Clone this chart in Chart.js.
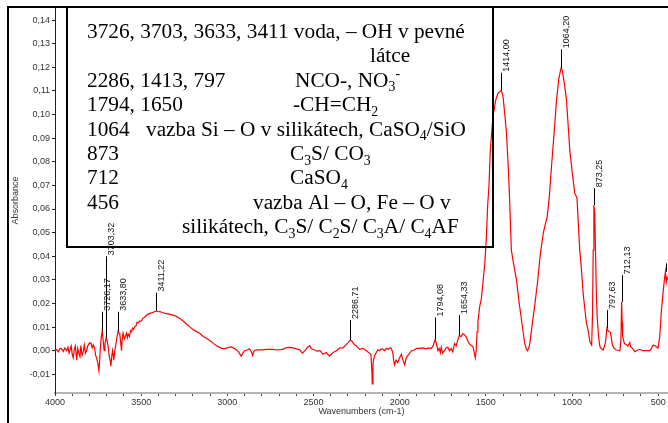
<!DOCTYPE html>
<html>
<head>
<meta charset="utf-8">
<script src="https://cdn.jsdelivr.net/npm/chart.js@4.4.0/dist/chart.umd.min.js"></script>
<style>
  body { margin: 0; background: #fff; }
  #spektrum { display: block; }
</style>
</head>
<body>
<canvas id="spektrum" width="668" height="423"></canvas>
<script>
// IR spektrum - vlnocty (cm-1) a absorbance
const wavenumbers = [
  4000, 3990, 3980, 3971, 3962, 3952, 3943, 3932, 3925, 3918, 3913, 3906, 3900, 3894, 3888, 3882,
  3874, 3868, 3862, 3855, 3850, 3843, 3836, 3830, 3823, 3817, 3810, 3804, 3798, 3790, 3784, 3778,
  3770, 3764, 3759, 3752, 3745, 3740, 3736, 3731, 3726, 3720, 3715, 3710, 3703, 3697, 3690, 3686,
  3680, 3676, 3670, 3666, 3662, 3659, 3653, 3647, 3640, 3634, 3628, 3624, 3618, 3614, 3609, 3605,
  3598, 3592, 3585, 3580, 3575, 3568, 3562, 3556, 3550, 3544, 3537, 3530, 3524, 3518, 3510, 3500,
  3490, 3480, 3470, 3460, 3450, 3440, 3430, 3420, 3411, 3400, 3390, 3380, 3360, 3340, 3320, 3300,
  3280, 3260, 3240, 3220, 3200, 3180, 3160, 3140, 3120, 3100, 3080, 3060, 3040, 3020, 3000, 2980,
  2965, 2950, 2935, 2920, 2910, 2900, 2885, 2872, 2862, 2853, 2845, 2830, 2800, 2770, 2740, 2710,
  2680, 2660, 2640, 2620, 2600, 2580, 2564, 2550, 2535, 2522, 2512, 2498, 2478, 2462, 2445, 2427,
  2407, 2397, 2382, 2367, 2347, 2329, 2312, 2297, 2287, 2277, 2262, 2247, 2233, 2213, 2193, 2177,
  2167, 2161, 2159, 2155, 2152, 2145, 2136, 2127, 2117, 2107, 2097, 2088, 2077, 2067, 2059, 2049,
  2040, 2035, 2030, 2021, 2011, 2000, 1990, 1981, 1971, 1962, 1952, 1942, 1931, 1916, 1901, 1884,
  1866, 1846, 1831, 1817, 1806, 1799, 1794, 1787, 1778, 1771, 1764, 1759, 1751, 1740, 1731, 1721,
  1711, 1701, 1692, 1682, 1672, 1663, 1654, 1644, 1634, 1624, 1614, 1604, 1594, 1585, 1575, 1565,
  1561, 1556, 1551, 1546, 1536, 1526, 1514, 1506, 1497, 1489, 1482, 1474, 1459, 1443, 1430, 1420,
  1414, 1407, 1400, 1390, 1380, 1370, 1362, 1352, 1342, 1322, 1308, 1293, 1283, 1274, 1265, 1258,
  1251, 1245, 1233, 1215, 1200, 1186, 1167, 1157, 1144, 1132, 1119, 1104, 1090, 1077, 1064, 1057,
  1052, 1042, 1032, 1022, 1013, 998, 984, 976, 971, 962, 955, 946, 935, 926, 916, 907,
  896, 886, 881, 877, 873, 868, 863, 859, 854, 846, 838, 829, 819, 811, 804, 798,
  791, 785, 777, 771, 766, 756, 743, 731, 722, 716, 712, 709, 706, 696, 684, 676,
  665, 659, 651, 636, 621, 607, 591, 578, 561, 549, 539, 529, 516, 501, 491, 481,
  471, 464, 458, 453, 448, 443
];

const absorbance = [
  0.0, 0.0005, -0.0005, 0.001, 0.0008, -0.0003, 0.0012, 0.0, 0.0015, -0.001, -0.001, 0.002, -0.0015, -0.003, 0.0005, 0.002,
  -0.004, 0.001, -0.001, -0.0025, 0.0022, -0.002, -0.0005, 0.0024, -0.001, 0.0, 0.002, 0.0028, 0.0034, 0.003, 0.0012, 0.0025,
  0.001, -0.002, -0.003, -0.005, -0.0085, -0.003, 0.002, 0.006, 0.0085, 0.004, 0.0, 0.003, 0.0055, 0.004, 0.001, -0.002,
  -0.004, -0.0065, -0.002, 0.0, -0.002, -0.004, 0.0, 0.0025, 0.006, 0.0082, 0.0075, 0.007, 0.003, 0.0, 0.006, 0.0075,
  0.005, 0.006, 0.0074, 0.0055, 0.007, 0.006, 0.0085, 0.008, 0.0095, 0.009, 0.0102, 0.0105, 0.012, 0.0118, 0.0125, 0.0125,
  0.0137, 0.0142, 0.015, 0.0155, 0.0158, 0.016, 0.0163, 0.0166, 0.0168, 0.0165, 0.0166, 0.0162, 0.0158, 0.0155, 0.0152, 0.0147,
  0.0138, 0.0128, 0.0115, 0.0102, 0.009, 0.0082, 0.0074, 0.006, 0.0052, 0.0042, 0.003, 0.002, 0.0012, 0.0008, 0.0012, 0.0016,
  0.0012, 0.0005, -0.0005, -0.0023, -0.001, 0.0, 0.0003, 0.0008, -0.0002, -0.002, 0.0, 0.0004, 0.0004, 0.0006, 0.0006, 0.0003,
  0.0006, 0.0012, 0.0014, 0.0012, 0.0008, 0.0004, -0.001, 0.0, 0.0015, 0.0022, 0.0008, 0.0004, -0.0002, 0.0, -0.0015, -0.0008,
  -0.0023, -0.0015, -0.0005, 0.0, 0.0012, 0.0012, 0.0025, 0.0035, 0.0045, 0.004, 0.0025, 0.0018, 0.0006, 0.001, 0.0, -0.001,
  -0.0015, -0.009, -0.014, -0.006, -0.004, -0.002, -0.0008, 0.0004, 0.0, 0.0008, 0.0006, 0.0, 0.001, 0.0005, 0.0012, 0.001,
  -0.0008, -0.004, -0.006, -0.004, -0.005, -0.003, -0.0015, -0.004, -0.006, -0.003, -0.002, -0.001, 0.0, 0.0003, 0.001, 0.001,
  0.0012, 0.0008, 0.0012, 0.001, 0.002, 0.0038, 0.0048, 0.003, 0.0, 0.001, -0.0008, 0.0015, -0.001, 0.0, 0.0012, 0.0015,
  0.0, 0.001, -0.0005, 0.003, 0.002, 0.0045, 0.0065, 0.006, 0.0072, 0.0068, 0.0058, 0.004, 0.0028, 0.0022, 0.0018, -0.0016,
  -0.003, 0.0, 0.008, 0.012, 0.0186, 0.022, 0.031, 0.037, 0.048, 0.062, 0.0694, 0.085, 0.099, 0.106, 0.109, 0.1097,
  0.11, 0.1095, 0.1075, 0.1, 0.092, 0.078, 0.0638, 0.0426, 0.038, 0.03, 0.021, 0.013, 0.0075, 0.003, 0.0007, 0.0,
  0.0012, 0.003, 0.01, 0.02, 0.029, 0.0395, 0.0497, 0.053, 0.0567, 0.065, 0.078, 0.092, 0.106, 0.115, 0.1196, 0.119,
  0.1165, 0.112, 0.106, 0.095, 0.085, 0.075, 0.0666, 0.0655, 0.0646, 0.052, 0.0426, 0.035, 0.024, 0.018, 0.0116, 0.0088,
  0.0038, 0.0024, 0.015, 0.0426, 0.0617, 0.058, 0.04, 0.025, 0.0144, 0.006, 0.0017, 0.0008, 0.0003, 0.002, 0.0045, 0.0095,
  0.0085, 0.008, 0.0078, 0.005, 0.0024, 0.001, 0.0003, 0.0002, 0.0, 0.005, 0.0207, 0.012, 0.006, 0.003, 0.0025, 0.002,
  0.0034, 0.0015, 0.0012, -0.0004, 0.0002, 0.0006, 0.0, 0.0, 0.0, 0.0, 0.001, 0.0024, 0.002, 0.0011, 0.006, 0.017,
  0.025, 0.03, 0.0335, 0.029, 0.031, 0.03
];

// oznacene piky a vyska jejich znacek
const peakPositions = [3726.17, 3703.32, 3633.80, 3411.22, 2286.71, 1794.08, 1654.33, 1414.00, 1064.20, 873.25, 797.63, 712.13, 456];
const peakTops = [0.0165, 0.040, 0.0165, 0.0246, 0.013, 0.0141, 0.0151, 0.1177, 0.1276, 0.0688, 0.0172, 0.032, 0.037];

// text v ramecku: [radek, odsazeni, text]  (_ = dolni index, ^ = horni index)
const boxText = [
  [0, 20, '3726, 3703, 3633, 3411 voda, – OH v pevné'],
  [1, 303, 'látce'],
  [2, 20, '2286, 1413, 797'],
  [2, 228, 'NCO-, NO_3^-'],
  [3, 20, '1794, 1650'],
  [3, 226, '-CH=CH_2'],
  [4, 20, '1064'],
  [4, 79, 'vazba Si – O v silikátech, CaSO_4/SiO'],
  [5, 20, '873'],
  [5, 223, 'C_3S/ CO_3'],
  [6, 20, '712'],
  [6, 223, 'CaSO_4'],
  [7, 20, '456'],
  [7, 186, 'vazba Al – O, Fe – O v'],
  [8, 115, 'silikátech, C_3S/ C_2S/ C_3A/ C_4AF']
];

const axisFont = { family: '"Liberation Sans", Arial, sans-serif', size: 9 };
const serif = '"Liberation Serif", "Times New Roman", serif';

function formatPeak(v) {
    return v.toFixed(2).replace('.', ',');
}

// hodnota spektra v nejblizsim bode
function valueAt(w) {
    let best = 0;
    for (let i = 1; i < wavenumbers.length; i++) {
        if (Math.abs(wavenumbers[i] - w) < Math.abs(wavenumbers[best] - w)) best = i;
    }
    return absorbance[best];
}

function drawRich(ctx, text, x, y, size) {
    let cx = x;
    let run = '';
    const flush = () => {
        if (!run) return;
        ctx.font = size + 'px ' + serif;
        ctx.fillText(run, cx, y);
        cx += ctx.measureText(run).width;
        run = '';
    };
    for (let i = 0; i < text.length; i++) {
        const ch = text[i];
        if (ch === '_' || ch === '^') {
            flush();
            const small = text[++i];
            const s = size * 0.65;
            ctx.font = s + 'px ' + serif;
            ctx.fillText(small, cx, y + (ch === '_' ? size * 0.22 : -size * 0.42));
            cx += ctx.measureText(small).width;
        } else {
            run += ch;
        }
    }
    flush();
}

const peakMarkers = {
    id: 'peakMarkers',
    afterDatasetsDraw(chart) {
        const { ctx, scales: { x, y } } = chart;
        ctx.save();
        ctx.strokeStyle = '#000';
        ctx.lineWidth = 1;
        ctx.fillStyle = '#111';
        ctx.font = axisFont.size + 'px ' + axisFont.family;
        ctx.textAlign = 'left';
        ctx.textBaseline = 'middle';
        for (let i = 0; i < peakPositions.length; i++) {
            const px = Math.round(x.getPixelForValue(peakPositions[i])) + 0.5;
            const yBase = y.getPixelForValue(valueAt(peakPositions[i]));
            const yTop = y.getPixelForValue(peakTops[i]);
            ctx.beginPath();
            ctx.moveTo(px, yBase);
            ctx.lineTo(px, yTop);
            ctx.stroke();

            ctx.save();
            ctx.translate(px + 5.5, yTop - 1);
            ctx.rotate(-Math.PI / 2);
            ctx.fillText(formatPeak(peakPositions[i]), 0, 0);
            ctx.restore();
        }
        ctx.restore();
    }
};

const infoBox = {
    id: 'infoBox',
    afterDraw(chart) {
        const ctx = chart.ctx;
        ctx.save();
        // vnejsi ramecek
        ctx.fillStyle = '#000';
        ctx.fillRect(7, 6, 2, 417);
        ctx.fillRect(7, 6, 661, 2);

        const bx = 67, by = 7, bw = 426, bh = 240;
        ctx.strokeStyle = '#000';
        ctx.lineWidth = 2;
        ctx.strokeRect(bx, by, bw, bh);

        ctx.fillStyle = '#000';
        ctx.textBaseline = 'alphabetic';
        ctx.textAlign = 'left';
        for (let i = 0; i < boxText.length; i++) {
            const [row, dx, text] = boxText[i];
            drawRich(ctx, text, bx + dx, by + 31 + row * 24.4, 21.3);
        }
        ctx.restore();
    }
};

const canvas = document.getElementById('spektrum');

const chart = new Chart(canvas, {
    type: 'line',
    data: {
        datasets: [{
            data: wavenumbers.map((w, i) => ({ x: w, y: absorbance[i] })),
            borderColor: '#ff0000',
            borderWidth: 1.2,
            pointRadius: 0,
            tension: 0,
            fill: false
        }]
    },
    options: {
        responsive: false,
        animation: false,
        devicePixelRatio: 1,
        layout: { padding: { top: 8, right: 0, bottom: 0, left: 0 } },
        plugins: {
            legend: { display: false },
            tooltip: { enabled: false }
        },
        scales: {
            x: {
                type: 'linear',
                reverse: true,
                min: 443,
                max: 4000,
                border: { color: '#b4b4b4', width: 2 },
                grid: { drawOnChartArea: false, tickLength: 3, tickColor: '#444' },
                ticks: {
                    stepSize: 100,
                    autoSkip: false,
                    maxRotation: 0,
                    includeBounds: false,
                    padding: 1,
                    color: '#333',
                    font: axisFont,
                    callback: (v) => v % 500 === 0 ? String(v) : ''
                },
                title: {
                    display: true,
                    text: 'Wavenumbers (cm-1)',
                    color: '#333',
                    font: axisFont,
                    padding: { top: 0, bottom: 6 }
                },
                afterFit: (scale) => { scale.height = 30; }
            },
            y: {
                min: -0.0179,
                max: 0.1451,
                border: { color: '#222', width: 1, dash: [1, 1.36] },
                grid: { drawOnChartArea: false, tickLength: 3, tickColor: '#222' },
                ticks: {
                    stepSize: 0.01,
                    includeBounds: false,
                    padding: 2,
                    color: '#333',
                    font: axisFont,
                    callback: (v) => formatPeak(v)
                },
                title: {
                    display: true,
                    text: 'Absorbance',
                    color: '#333',
                    font: axisFont,
                    padding: { top: 10, bottom: 0 }
                },
                afterFit: (scale) => { scale.width = 55; }
            }
        }
    },
    plugins: [peakMarkers, infoBox]
});
</script>
</body>
</html>
